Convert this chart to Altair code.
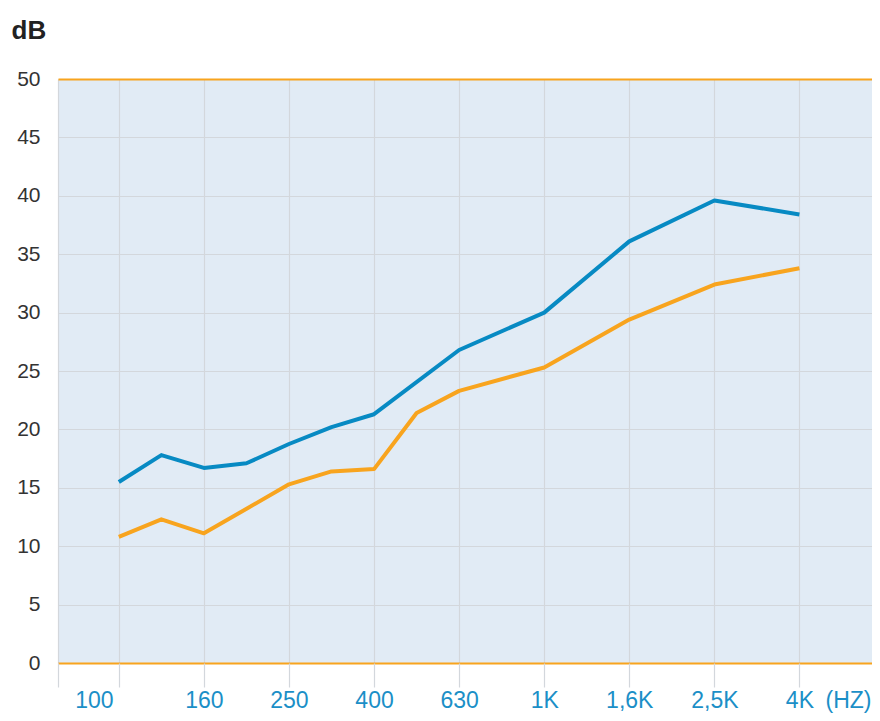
import altair as alt
import pandas as pd

freqs = ["100", "125", "160", "200", "250", "315", "400", "500", "630", "800",
         "1K", "1,25K", "1,6K", "2K", "2,5K", "3,15K", "4K"]
# values at line vertices (None where the line runs straight through)
blue = [15.5, 17.8, 16.7, 17.1, 18.75, 20.2, 21.3, None, 26.8, None,
        30.0, None, 36.1, None, 39.6, None, 38.4]
orange = [10.8, 12.3, 11.1, None, 15.3, 16.4, 16.6, 21.4, 23.3, None,
          25.3, None, 29.4, None, 32.4, None, 33.8]
y_ticks = [0, 5, 10, 15, 20, 25, 30, 35, 40, 45, 50]
x_min, x_max = -1.43, 17.706
x_ticks = [x_min] + list(range(0, 17, 2))

rows = []
for name, vals in (("a", blue), ("b", orange)):
    for i, v in enumerate(vals):
        if v is not None:
            rows.append({"series": name, "idx": i, "value": v})
df = pd.DataFrame(rows)

arr = "[" + ",".join("'" + f + "'" for f in freqs) + "]"
label_expr = f"datum.value >= 0 ? {arr}[round(datum.value)] : ''"

BLUE = "#078ac3"
ORANGE = "#f8a41e"
GRID = "#d3d7dc"
LBLUE = "#1b8fc7"
FONT = "Liberation Sans"

chart = alt.Chart(df).mark_line(strokeWidth=4, strokeJoin="round").encode(
    x=alt.X("idx:Q",
            scale=alt.Scale(domain=[x_min, x_max], nice=False, zero=False),
            axis=alt.Axis(values=x_ticks, labelExpr=label_expr, grid=True,
                          gridColor=GRID, gridWidth=1.2, domain=False,
                          ticks=True, tickColor=GRID, tickSize=24, tickWidth=1.2,
                          labelColor=LBLUE, labelFont=FONT,
                          labelFontSize=23, labelBaseline="alphabetic",
                          labelPadding=20, labelAlign="center",
                          labelOffset={"condition": {"test": "datum.value == 0", "value": -25}, "value": 0},
                          labelFlush=False, labelOverlap=False,
                          title="(HZ)", titleColor=LBLUE,
                          titleFont=FONT, titleFontSize=23,
                          titleFontWeight="normal", titleX=813, titleY=44,
                          titleAlign="right", titleBaseline="alphabetic")),
    y=alt.Y("value:Q",
            scale=alt.Scale(domain=[0, 50], nice=False),
            axis=alt.Axis(values=y_ticks, grid=True,
                          gridColor={"condition": {"test": "datum.value == 0 || datum.value == 50", "value": ORANGE}, "value": GRID},
                          gridWidth={"condition": {"test": "datum.value == 0 || datum.value == 50", "value": 2}, "value": 1.2},
                          domain=False, ticks=False, labelPadding=18,
                          labelColor="#333333", labelFont=FONT,
                          labelFontSize=21,
                          title="dB", titleAngle=0, titleX=-47, titleY=-41,
                          titleAlign="left", titleBaseline="alphabetic",
                          titleFont=FONT, titleFontSize=26,
                          titleFontWeight="bold", titleColor="#222222")),
    color=alt.Color("series:N", scale=alt.Scale(domain=["a", "b"], range=[BLUE, ORANGE]),
                    legend=None),
).properties(
    width=814, height=584,
    autosize=alt.AutoSizeParams(type="none"),
    padding={"left": 50, "top": 71, "right": 0, "bottom": 50},
).configure_view(fill="#e1ebf5", stroke=None)

chart.save("out.html", embed_options={"renderer": "svg", "actions": False})
